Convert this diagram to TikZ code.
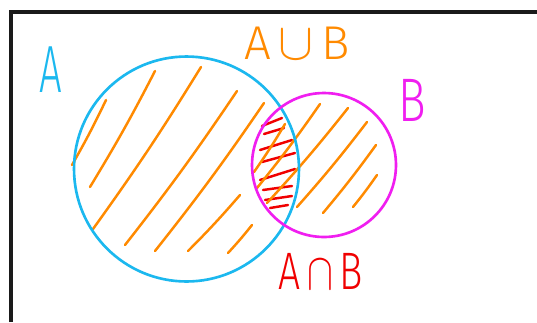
\documentclass[tikz,border=0pt]{standalone}
\usepackage{fontspec}
\newfontfamily\handfont{Fira Sans Light}
\definecolor{setblue}{HTML}{1BB8EF}
\definecolor{setpink}{HTML}{F01EF0}
\definecolor{hatchorange}{HTML}{FF8A00}
\definecolor{hatchred}{HTML}{F00000}
\definecolor{frame}{HTML}{1A1A1A}
\tikzset{setline/.style={line width=1.5pt}, hatch/.style={line width=1.4pt, line cap=round, color=hatchorange}, cross/.style={line width=1.4pt, line cap=round, color=hatchred}, lab/.style={font=\handfont, inner sep=0pt}}
\newcommand{\bigop}[1]{\scalebox{1.2}{$#1$}}

\begin{document}
\begin{tikzpicture}[x=0.02cm,y=-0.02cm]
\useasboundingbox (0,0) rectangle (537,322);
\fill[white] (0,0) rectangle (537,322);
\draw[line width=1.8pt, color=frame] (11,322)--(11,12)--(537,12);
% red hatching of the intersection
\foreach \a/\b/\c/\d in {262/126/282/118, 264/134/284/128, 260/150/292/140, 262/162/295/153, 260/180/295/169, 263/190/292/186, 265/200/292/196, 270/208/288/205}
  \draw[cross] (\a,\b)--(\c,\d);
% orange hatching of the union
\foreach \a/\b/\c/\d in {106/100/72/165, 155/71/90/187, 201/67/93/229, 237/91/125/245, 264/103/155/251, 240/195/188/251, 252/225/228/253, 285/124/254/172, 320/104/257/188, 348/108/267/203, 367/122/297/207, 376/145/323/213, 377/175/353/207}
  \draw[hatch] (\a,\b) to[bend left=2] (\c,\d);
\draw[setline, setblue] (186.5,169) circle[radius=2.25cm];
\draw[setline, setpink] (324,165) circle[radius=1.44cm];
\node[lab, text=setblue, font=\handfont\fontsize{38}{40}\selectfont, xscale=.6] (labA) at (51,70) {A};
\node[lab, text=setpink, font=\handfont\fontsize{35}{38}\selectfont, xscale=.75] (labB) at (412,100) {B};
\node[lab, text=hatchorange, font=\handfont\fontsize{27}{30}\selectfont] (labU) at (297,43) {A\,\bigop{\cup}\,B};
\node[lab, text=hatchred, font=\handfont\fontsize{30}{32}\selectfont, xscale=.74] (labI) at (321,271) {A\,\bigop{\cap}\,B};
\end{tikzpicture}
\end{document}
